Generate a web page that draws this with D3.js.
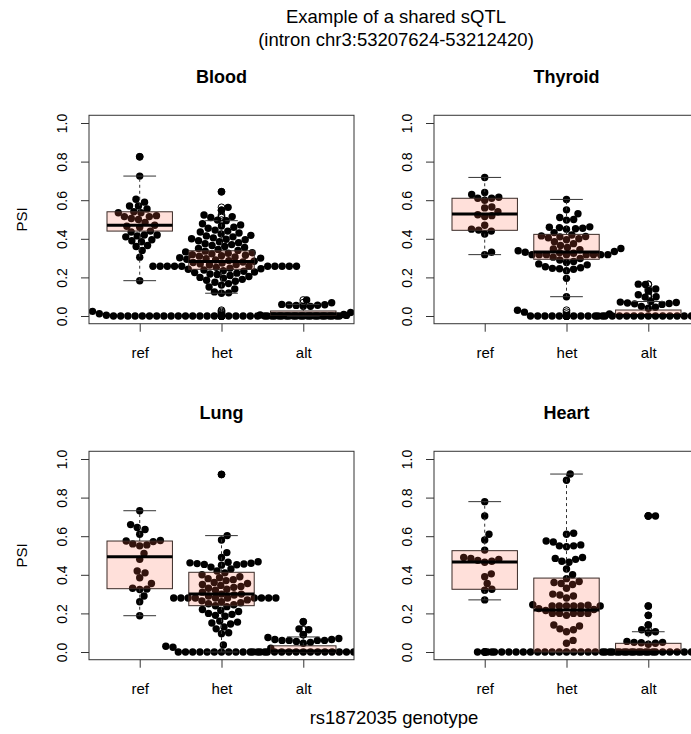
<!DOCTYPE html>
<html>
<head>
<meta charset="utf-8">
<script src="https://d3js.org/d3.v7.min.js"></script>
<style>
  body { margin: 0; background: #fff; }
  svg { font-family: "Liberation Sans", Arial, Helvetica, sans-serif; }
  .tick line { stroke: #333; }
  .tick text { fill: #000; font-size: 14px; }
</style>
</head>
<body>
<script>
var genotypes = ["ref", "het", "alt"];
var tissues = ["Blood", "Thyroid", "Lung", "Heart"];
var yTicks = [0, 0.2, 0.4, 0.6, 0.8, 1.0];

// PSI of each sample
var bloodRef = [0.825, 0.725, 0.605, 0.59, 0.57, 0.57, 0.555, 0.54, 0.535, 0.535, 0.52, 0.515, 0.515,
  0.505, 0.50, 0.485, 0.47, 0.465, 0.46, 0.44, 0.435, 0.42, 0.42, 0.415, 0.41, 0.395, 0.39, 0.385,
  0.365, 0.36, 0.34, 0.305, 0.183];
var bloodHet = [0.644, 0.563, 0.548, 0.523, 0.515, 0.51, 0.497, 0.494, 0.478, 0.472, 0.466, 0.46,
  0.455, 0.445, 0.44, 0.435, 0.43, 0.425, 0.418, 0.415, 0.41, 0.405, 0.40, 0.398, 0.395, 0.39, 0.385,
  0.38, 0.375, 0.37, 0.365, 0.36, 0.355, 0.35, 0.345, 0.34, 0.336, 0.332, 0.328, 0.325, 0.322, 0.318,
  0.315, 0.312, 0.31, 0.306, 0.302, 0.30, 0.297, 0.294, 0.29, 0.287, 0.284, 0.28, 0.277, 0.274, 0.27,
  0.267, 0.264,
  0.258, 0.258, 0.258, 0.258, 0.258, 0.258, 0.258, 0.258, 0.258, 0.258, 0.258,
  0.252, 0.248, 0.245, 0.242, 0.238, 0.235, 0.232, 0.228, 0.225, 0.222, 0.218, 0.215, 0.21, 0.205,
  0.2, 0.196, 0.19, 0.185, 0.18, 0.175, 0.168, 0.16, 0.15, 0.14, 0.125, 0.12, 0.118,
  0, 0, 0, 0, 0, 0, 0, 0, 0, 0, 0, 0, 0, 0, 0, 0, 0, 0, 0, 0, 0, 0, 0, 0, 0, 0, 0, 0, 0, 0, 0, 0,
  0.004, 0.008, 0.012, 0.018, 0.024, 0.03];
var bloodAlt = [0.083, 0.069, 0.06, 0.058, 0.057, 0.056, 0.055, 0.05, 0.05, 0.005, 0.003,
  0, 0, 0, 0, 0, 0, 0, 0, 0, 0, 0];

var thyroidRef = [0.718, 0.64, 0.63, 0.615, 0.61, 0.61, 0.60, 0.565, 0.56, 0.54, 0.525, 0.52, 0.515,
  0.47, 0.45, 0.445, 0.44, 0.425, 0.33, 0.318];
var thyroidHet = [0.604, 0.55, 0.53, 0.51, 0.50, 0.497, 0.462, 0.46, 0.458, 0.455, 0.452, 0.45, 0.432,
  0.42, 0.415, 0.412, 0.41, 0.405, 0.40, 0.395, 0.385, 0.375, 0.365, 0.355, 0.35, 0.347, 0.343, 0.338,
  0.334, 0.33, 0.328, 0.325,
  0.318, 0.318, 0.318, 0.318, 0.318, 0.318, 0.318, 0.318,
  0.305, 0.298, 0.29, 0.283, 0.277, 0.27, 0.265, 0.255, 0.25, 0.247, 0.245, 0.242, 0.235, 0.195, 0.10,
  0, 0, 0, 0, 0, 0, 0, 0, 0, 0, 0, 0.01, 0.02, 0.03];
var thyroidAlt = [0.165, 0.163, 0.14, 0.13, 0.11, 0.10, 0.098, 0.075, 0.072, 0.07, 0.067, 0.065,
  0.063, 0.06, 0.05, 0.045, 0.04, 0.03,
  0, 0, 0, 0, 0, 0, 0, 0, 0, 0, 0, 0, 0, 0, 0];

var lungRef = [0.732, 0.66, 0.645, 0.635, 0.61, 0.578, 0.575, 0.572, 0.56, 0.555, 0.55, 0.51, 0.48,
  0.42, 0.41, 0.385, 0.355, 0.33, 0.326, 0.324, 0.29, 0.26, 0.188];
var lungHet = [0.92, 0.603, 0.58, 0.515, 0.49, 0.468, 0.465, 0.462, 0.46, 0.458, 0.456, 0.454, 0.452,
  0.45, 0.44, 0.43, 0.42, 0.41, 0.40, 0.39, 0.385, 0.38, 0.375, 0.37, 0.36, 0.355, 0.35, 0.345, 0.34,
  0.335, 0.33, 0.325, 0.32, 0.31, 0.30, 0.30, 0.295, 0.29,
  0.28, 0.28, 0.28, 0.28, 0.28, 0.28, 0.28, 0.28, 0.28, 0.28,
  0.27, 0.265, 0.26, 0.255, 0.25, 0.245, 0.24, 0.235, 0.22, 0.215, 0.21, 0.20, 0.195, 0.19, 0.185,
  0.16, 0.155, 0.15, 0.145, 0.13, 0.12, 0.10, 0.095,
  0, 0, 0, 0, 0, 0, 0, 0, 0, 0, 0, 0, 0, 0.02, 0.025, 0.03, 0.036];
var lungAlt = [0.157, 0.12, 0.115, 0.09, 0.075, 0.07, 0.065, 0.065, 0.06, 0.06, 0.06, 0.06, 0.055,
  0.05, 0.045, 0, 0, 0, 0, 0, 0, 0, 0, 0, 0, 0, 0, 0, 0, 0];

var heartRef = [0.779, 0.705, 0.61, 0.58, 0.528, 0.49, 0.485, 0.48, 0.475, 0.47, 0.465, 0.405, 0.39,
  0.355, 0.325, 0.32, 0.27, 0, 0, 0];
var heartHet = [0.922, 0.89, 0.615, 0.61, 0.575, 0.57, 0.555, 0.55, 0.55, 0.545, 0.49, 0.485, 0.48,
  0.47, 0.465, 0.43, 0.40, 0.38, 0.365, 0.36, 0.355, 0.35, 0.33, 0.30, 0.295, 0.29, 0.28, 0.245, 0.242,
  0.238, 0.238, 0.238, 0.238, 0.238, 0.238,
  0.225, 0.22, 0.215, 0.2, 0.2, 0.2, 0.2, 0.2, 0.19, 0.14, 0.135, 0.12, 0.115, 0.105, 0.06, 0.045,
  0, 0, 0, 0, 0, 0, 0, 0, 0, 0, 0, 0, 0, 0, 0, 0, 0, 0, 0, 0, 0, 0, 0, 0];
var heartAlt = [0.705, 0.705, 0.238, 0.19, 0.14, 0.115, 0.105, 0.1, 0.055, 0.05, 0.05, 0.048, 0.045,
  0.04, 0, 0, 0, 0, 0, 0, 0, 0, 0, 0, 0, 0, 0, 0];

// box statistics per genotype: lower whisker, q1, median, q3, upper whisker
var bloodBox = [[0.183, 0.44, 0.47, 0.54, 0.725], [0.118, 0.242, 0.283, 0.338, 0.494], [0, 0.004, 0.012, 0.026, 0.06]];
var thyroidBox = [[0.318, 0.444, 0.528, 0.61, 0.718], [0.10, 0.294, 0.332, 0.423, 0.604], [0, 0, 0.003, 0.031, 0.075]];
var lungBox = [[0.188, 0.328, 0.494, 0.575, 0.732], [0, 0.24, 0.30, 0.413, 0.603], [0, 0, 0.005, 0.032, 0.078]];
var heartBox = [[0.27, 0.325, 0.466, 0.525, 0.779], [0, 0, 0.218, 0.383, 0.922], [0, 0, 0, 0.045, 0.105]];

var panels = [
  { name: tissues[0], groups: [bloodRef, bloodHet, bloodAlt], box: bloodBox },
  { name: tissues[1], groups: [thyroidRef, thyroidHet, thyroidAlt], box: thyroidBox },
  { name: tissues[2], groups: [lungRef, lungHet, lungAlt], box: lungBox },
  { name: tissues[3], groups: [heartRef, heartHet, heartAlt], box: heartBox }
];

var width = 691, height = 734;
var panelLeft = [89, 434], zeroY = [316, 652];
var plotW = 265, unit = 193;
var dotD = 7.2, dotR = 3.7;
var boxFill = "rgba(255, 99, 71, 0.2)";

var svg = d3.select("body").append("svg")
  .attr("width", width)
  .attr("height", height);

// beeswarm "swarm" layout, ascending priority, offsets in px
function swarm(values, y) {
  var pts = values.map(function(v) { return { v: v, py: y(v), dx: 0 }; });
  var order = pts.slice().sort(function(a, b) { return a.v - b.v; });
  var placed = [];
  order.forEach(function(p) {
    var near = placed.filter(function(q) { return Math.abs(q.py - p.py) < dotD; });
    var cands = [0];
    near.forEach(function(q) { cands.push(q.dx + Math.sqrt(dotD * dotD - Math.pow(p.py - q.py, 2))); });
    near.forEach(function(q) { cands.push(q.dx - Math.sqrt(dotD * dotD - Math.pow(p.py - q.py, 2))); });
    var best = Infinity;
    cands.forEach(function(c) {
      var ok = near.every(function(q) {
        return Math.pow(c - q.dx, 2) + Math.pow(p.py - q.py, 2) >= dotD * dotD * 0.999;
      });
      if (ok && Math.abs(c) < Math.abs(best)) best = c;
    });
    p.dx = best;
    placed.push(p);
  });
  return pts;
}

panels.forEach(function(p, k) {
  var col = k % 2, row = Math.floor(k / 2);
  var x = d3.scaleLinear().domain([0.38, 3.62]).range([panelLeft[col], panelLeft[col] + plotW]);
  var y = d3.scaleLinear().domain([-0.04, 1.04])
    .range([zeroY[row] + 0.04 * unit, zeroY[row] - 1.04 * unit]);
  var top = y(1.04), bottom = y(-0.04);

  var g = svg.append("g");

  g.append("clipPath").attr("id", "clip" + k)
    .append("rect")
    .attr("x", x(0.38)).attr("y", top)
    .attr("width", plotW).attr("height", bottom - top);

  var plot = g.append("g").attr("clip-path", "url(#clip" + k + ")");

  // dots
  p.groups.forEach(function(vals, i) {
    var cx = x(i + 1);
    plot.append("g").selectAll("circle")
      .data(swarm(vals, y))
      .enter().append("circle")
      .attr("cx", function(d) { return cx + d.dx; })
      .attr("cy", function(d) { return d.py; })
      .attr("r", dotR)
      .attr("fill", "#000");
  });

  // boxplots drawn over the dots
  p.box.forEach(function(s, i) {
    var cx = x(i + 1), hw = x(1.4) - x(1), sw = x(1.2) - x(1);
    var b = plot.append("g");
    b.append("line")
      .attr("x1", cx).attr("x2", cx).attr("y1", y(s[0])).attr("y2", y(s[1]))
      .attr("stroke", "#333").attr("stroke-dasharray", "3,3");
    b.append("line")
      .attr("x1", cx).attr("x2", cx).attr("y1", y(s[3])).attr("y2", y(s[4]))
      .attr("stroke", "#333").attr("stroke-dasharray", "3,3");
    [s[0], s[4]].forEach(function(v) {
      b.append("line")
        .attr("x1", cx - sw).attr("x2", cx + sw).attr("y1", y(v)).attr("y2", y(v))
        .attr("stroke", "#333");
    });
    b.append("rect")
      .attr("x", cx - hw).attr("width", 2 * hw)
      .attr("y", y(s[3])).attr("height", Math.max(0, y(s[1]) - y(s[3])))
      .attr("fill", boxFill).attr("stroke", "#3a2a26");
    b.append("line")
      .attr("x1", cx - hw).attr("x2", cx + hw).attr("y1", y(s[2])).attr("y2", y(s[2]))
      .attr("stroke", "#000").attr("stroke-width", 3);
    var out = p.groups[i].filter(function(v) { return v < s[0] || v > s[4]; });
    b.selectAll(".out").data(out).enter().append("circle")
      .attr("cx", cx).attr("cy", function(v) { return y(v); })
      .attr("r", 3.4).attr("fill", "none").attr("stroke", "#000");
  });

  // frame
  g.append("rect")
    .attr("x", x(0.38)).attr("y", top)
    .attr("width", plotW).attr("height", bottom - top)
    .attr("fill", "none").attr("stroke", "#333");

  var yAxis = g.append("g")
    .attr("transform", "translate(" + x(0.38) + ",0)")
    .call(d3.axisLeft(y).tickValues(yTicks).tickSize(8).tickFormat(d3.format(".1f")));
  yAxis.select(".domain").remove();
  yAxis.selectAll(".tick text")
    .attr("x", null).attr("dy", null)
    .attr("text-anchor", "middle")
    .attr("transform", "translate(-22,0) rotate(-90)");

  var xAxis = g.append("g")
    .attr("transform", "translate(0," + bottom + ")")
    .call(d3.axisBottom(x).tickValues([1, 2, 3]).tickSize(8)
      .tickFormat(function(d) { return genotypes[d - 1]; }));
  xAxis.select(".domain").remove();
  xAxis.selectAll(".tick text").attr("dy", null).attr("y", 34);
  xAxis.selectAll("text").style("font-size", "15px");

  g.append("text")
    .attr("x", x(2)).attr("y", top - 32)
    .attr("text-anchor", "middle")
    .style("font-weight", "bold").style("font-size", "18px")
    .text(p.name);

  if (col === 0) {
    g.append("text")
      .attr("transform", "translate(27," + (top + bottom) / 2 + ") rotate(-90)")
      .attr("text-anchor", "middle")
      .style("font-size", "15px")
      .text("PSI");
  }
});

svg.append("text")
  .attr("x", 396).attr("y", 23)
  .attr("text-anchor", "middle").style("font-size", "18.5px")
  .text("Example of a shared sQTL");
svg.append("text")
  .attr("x", 396).attr("y", 46)
  .attr("text-anchor", "middle").style("font-size", "18.5px")
  .text("(intron chr3:53207624-53212420)");
svg.append("text")
  .attr("x", 394).attr("y", 724)
  .attr("text-anchor", "middle").style("font-size", "18.5px")
  .text("rs1872035 genotype");
</script>
</body>
</html>
